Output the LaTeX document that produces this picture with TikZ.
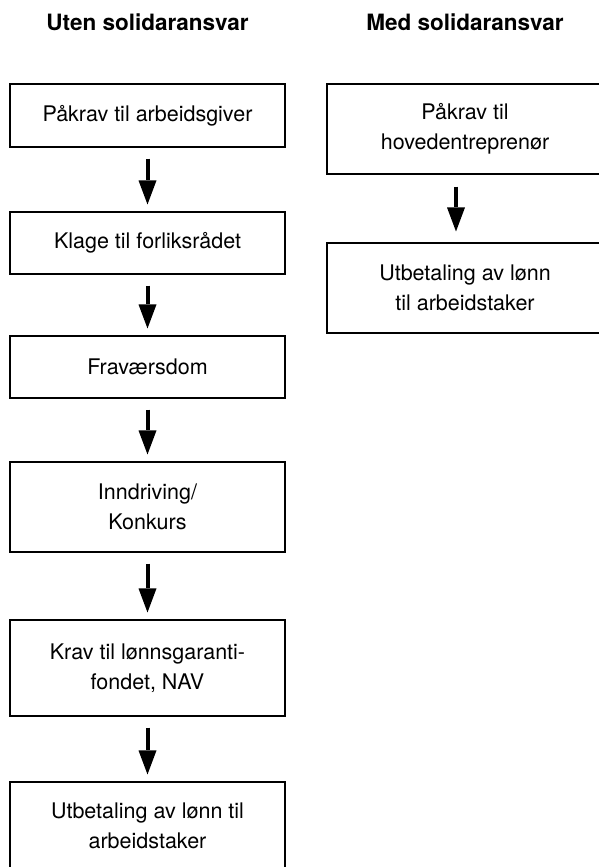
\documentclass[tikz,border=0pt]{standalone}
\usepackage{fontspec}
\setmainfont{TeX Gyre Heros}
\usetikzlibrary{arrows.meta}
\begin{document}
\begin{tikzpicture}[x=1pt, y=-1pt,
    box/.style={draw, line width=1.1pt, minimum width=275pt, align=center,
      inner sep=0pt, font=\fontsize{21.5}{30}\selectfont},
    head/.style={font=\bfseries\fontsize{22.5}{27}\selectfont},
    flow/.style={line width=4pt, -{Triangle[width=18pt, length=24pt, line width=0pt]}}]
    \useasboundingbox (0,0) rectangle (598,867);
    \node[head] (hl) at (147.5,22) {Uten solidaransvar};
    \node[head] (hr) at (465,22) {Med solidaransvar};
    \node[box, minimum height=63pt] (l1) at (147.5,115.5) {Påkrav til arbeidsgiver};
    \node[box, minimum height=62pt] (l2) at (147.5,243) {Klage til forliksrådet};
    \node[box, minimum height=62pt] (l3) at (147.5,367) {Fraværsdom};
    \node[box, minimum height=90pt] (l4) at (147.5,507) {Inndriving/\\Konkurs};
    \node[box, minimum height=96pt] (l5) at (147.5,668) {Krav til lønnsgaranti-\\fondet, NAV};
    \node[box, minimum height=88pt] (l6) at (147.5,826) {Utbetaling av lønn til\\arbeidstaker};
    \node[box, minimum width=276pt, minimum height=90pt] (r1) at (465,129) {Påkrav til\\hovedentreprenør};
    \node[box, minimum width=276pt, minimum height=90pt] (r2) at (465,288) {Utbetaling av lønn\\til arbeidstaker};
    \draw[flow] ([yshift=-11pt]l1.south) -- ([yshift=7pt]l2.north);
    \draw[flow] ([yshift=-11pt]l2.south) -- ([yshift=7pt]l3.north);
    \draw[flow] ([yshift=-11pt]l3.south) -- ([yshift=7pt]l4.north);
    \draw[flow] ([yshift=-11pt]l4.south) -- ([yshift=7pt]l5.north);
    \draw[flow] ([yshift=-11pt]l5.south) -- ([yshift=7pt]l6.north);
    \draw[flow] ([xshift=-9pt, yshift=-12pt]r1.south) -- ([xshift=-9pt, yshift=11pt]r2.north);
\end{tikzpicture}
\end{document}
